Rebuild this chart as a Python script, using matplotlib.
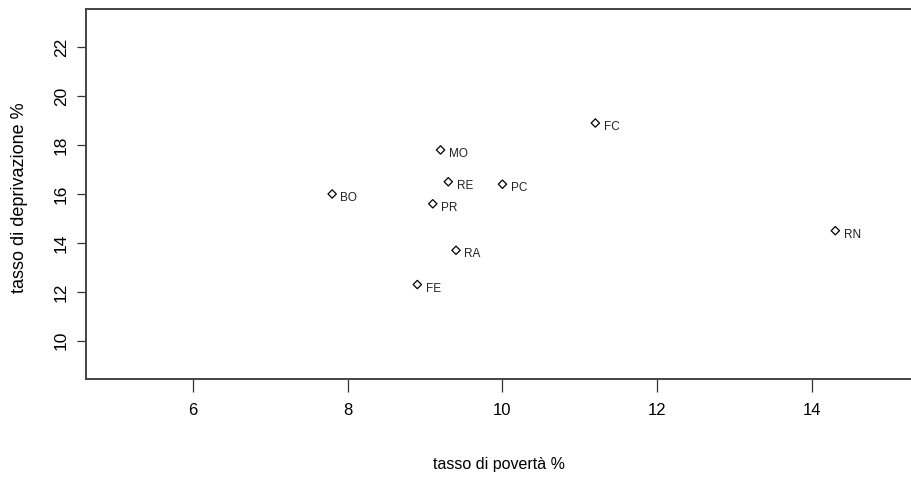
import matplotlib
matplotlib.use("Agg")
import matplotlib.pyplot as plt

# province codes with poverty rate (x) and deprivation rate (y)
codes = ["BO", "FE", "PR", "MO", "RE", "RA", "PC", "FC", "RN"]
poverty = [7.8, 8.9, 9.1, 9.2, 9.3, 9.4, 10.0, 11.2, 14.3]
deprivation = [16.0, 12.3, 15.6, 17.8, 16.5, 13.7, 16.4, 18.9, 14.5]

x_ticks = [6, 8, 10, 12, 14]
y_ticks = [10, 12, 14, 16, 18, 20, 22]

plt.rcParams["font.family"] = ["Liberation Sans", "DejaVu Sans"]

fig = plt.figure(figsize=(9.12, 4.79), dpi=100)
ax = fig.add_axes([0.0943, 0.2088, 0.915, 0.7724])

ax.scatter(poverty, deprivation, marker="D", s=18, facecolors="none",
           edgecolors="black", linewidths=0.9, zorder=3)
for c, px, py in zip(codes, poverty, deprivation):
    ax.annotate(c, (px, py), xytext=(6, -3), textcoords="offset points",
                fontsize=8.5, va="center", ha="left", color="#222222")

ax.set_xlim(4.62, 15.4)
ax.set_ylim(8.44, 23.56)
ax.set_xticks(x_ticks)
ax.set_yticks(y_ticks)
ax.tick_params(axis="x", length=9, width=0.9, pad=8.5, labelsize=12, color="#333333")
ax.tick_params(axis="y", length=6.5, width=0.9, pad=6, labelsize=12.5, color="#333333")
for lab in ax.get_yticklabels():
    lab.set_rotation(90)
    lab.set_va("center")

for s in ax.spines.values():
    s.set_color("#444444")
    s.set_linewidth(1.4)
ax.spines["right"].set_visible(False)

fig.text(0.5 * (0.0943 + 1.0), 1 - 465 / 479, "tasso di povertà %",
         ha="center", va="center", fontsize=11.5)
fig.text(20 / 912, 1 - 198 / 479, "tasso di deprivazione %", rotation=90,
         ha="center", va="center", fontsize=13)

fig.savefig("out.png", dpi=100)
